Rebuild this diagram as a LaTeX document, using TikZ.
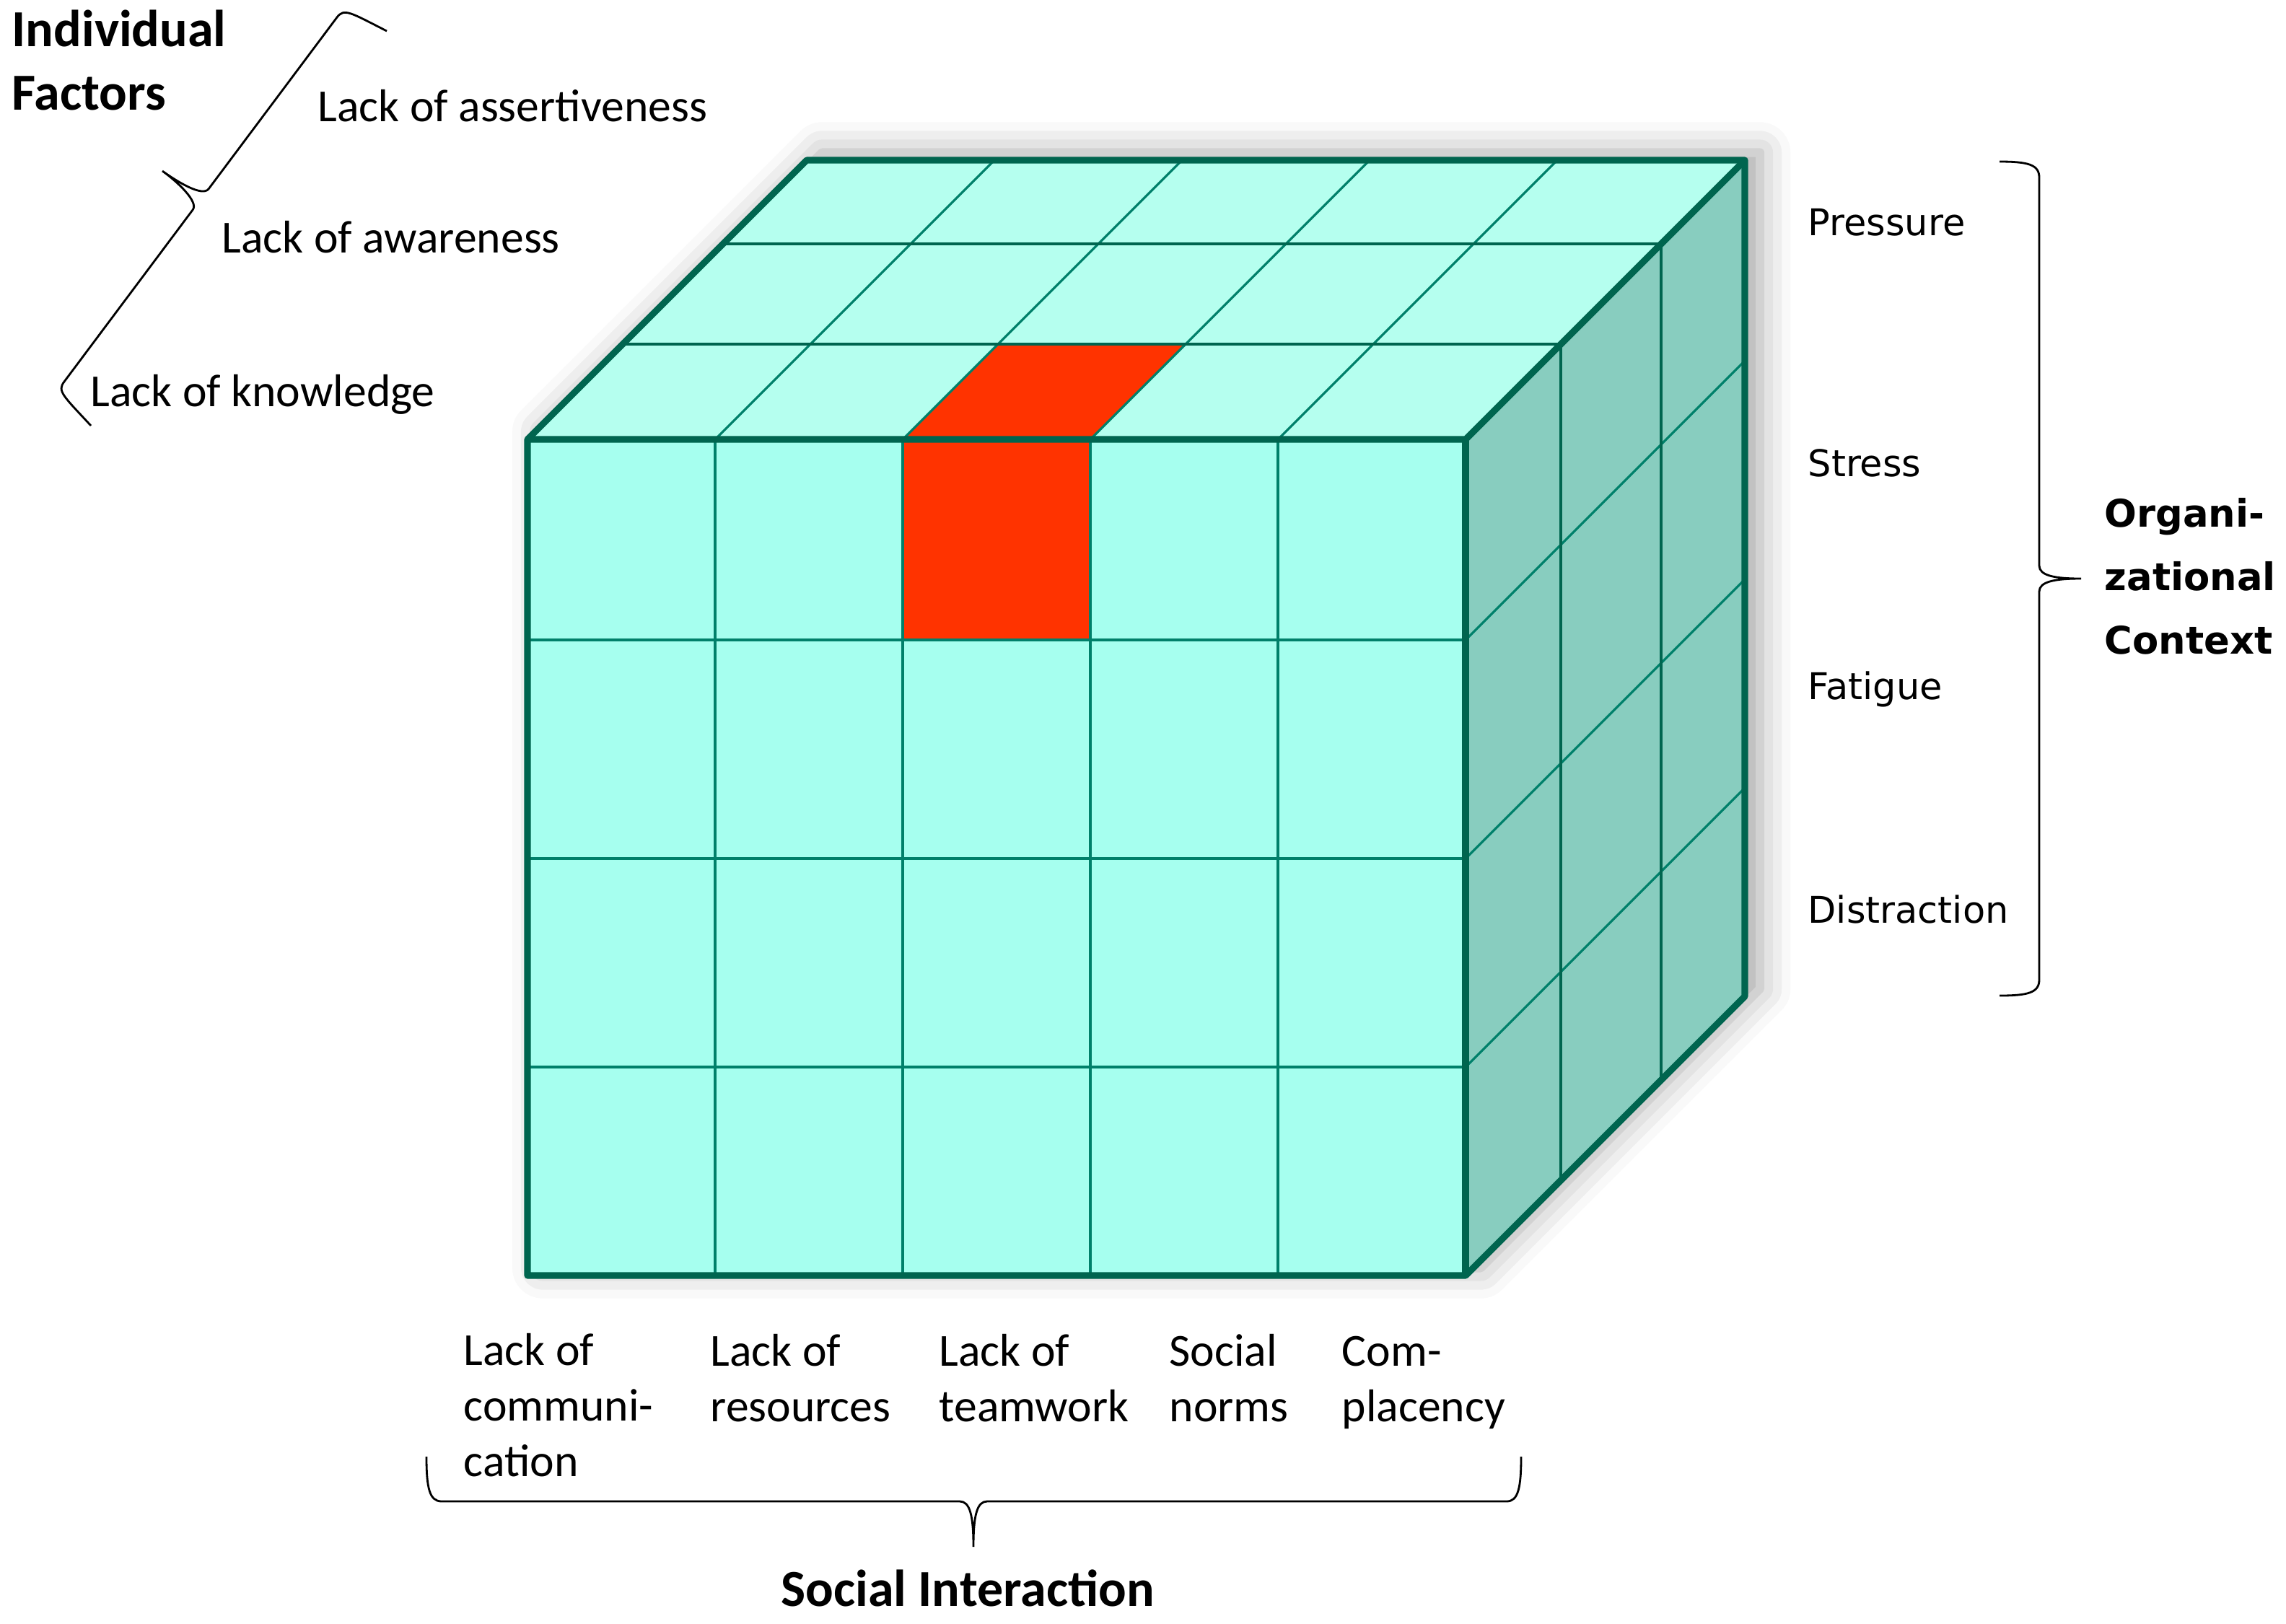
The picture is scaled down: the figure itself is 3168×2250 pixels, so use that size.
\documentclass[tikz,border=0pt]{standalone}
\usepackage{fontspec}
\setmainfont{Carlito}
\newfontfamily\widefont{DejaVu Sans}
\usetikzlibrary{shadows.blur}
\definecolor{cubeedge}{HTML}{00654F}
\definecolor{cubegrid}{HTML}{00806A}
\definecolor{frontcol}{HTML}{A6FFEF}
\definecolor{topcol}{HTML}{B5FFEF}
\definecolor{sidecol}{HTML}{88CDBF}
\definecolor{hotcol}{HTML}{FF3300}

\begin{document}
\begin{tikzpicture}[x=0.01cm, y=-0.01cm,
            cubeline/.style={color=cubeedge, line width=2.6pt, line join=round},
            gridline/.style={color=cubegrid, line width=0.9pt},
            layerline/.style={color=cubeedge, line width=1.3pt},
            bracket/.style={color=black, line width=0.8pt},
            factornode/.style={anchor=base west, inner sep=0pt, align=left, font=\fontsize{18.1}{21.9}\selectfont},
            headnode/.style={anchor=base west, inner sep=0pt, align=left, font=\bfseries\fontsize{20.5}{24.8}\selectfont},
            contextnode/.style={anchor=base west, inner sep=0pt, font=\widefont\fontsize{14.5}{17}\selectfont},
            contexthead/.style={anchor=base west, inner sep=0pt, align=left, font=\widefont\bfseries\fontsize{15}{25}\selectfont}
        ]
            \useasboundingbox (0,0) rectangle (3168,2250);

            % shadow
            \path[fill=white, blur shadow={shadow xshift=6pt, shadow yshift=3pt, shadow blur radius=12pt, shadow opacity=35}]
                (731,609) -- (1118,222) -- (2418,222) -- (2418,1381) -- (2031,1768) -- (731,1768) -- cycle;

            % faces
            \fill[frontcol] (731,609) rectangle (2031,1768);
            \fill[topcol] (731,609) -- (1118,222) -- (2418,222) -- (2031,609) -- cycle;
            \fill[sidecol] (2031,609) -- (2418,222) -- (2418,1381) -- (2031,1768) -- cycle;

            % highlighted cell
            \fill[hotcol] (1251,609) rectangle (1511,887);
            \fill[hotcol] (1251,609) -- (1511,609) -- (1643,477) -- (1383,477) -- cycle;

            % grid columns and rows
            \foreach \x in {991, 1251, 1511, 1771}{
                \draw[gridline] (\x,609) -- (\x,1768);
                \draw[gridline] (\x,609) -- ({\x+387},222);
            }
            \foreach \y in {887, 1190, 1479}{
                \draw[gridline] (731,\y) -- (2031,\y);
                \draw[gridline] (2031,\y) -- (2418,{\y-387});
            }

            % depth layers
            \foreach \d in {132, 271}{
                \draw[layerline] ({731+\d},{609-\d}) -- ({2031+\d},{609-\d});
                \draw[layerline] ({2031+\d},{609-\d}) -- ({2031+\d},{1768-\d});
            }

            % outline
            \draw[cubeline] (731,1768) -- (731,609) -- (1118,222) -- (2418,222) -- (2418,1381) -- (2031,1768) -- cycle;
            \draw[cubeline] (731,609) -- (2031,609) -- (2418,222);
            \draw[cubeline] (2031,609) -- (2031,1768);

            % individual factors
            \node[headnode] (indiv) at (16,152) {Individual\\Factors};
            \node[factornode] (assert) at (440,168) {Lack of assertiveness};
            \node[factornode] (aware) at (307,350) {Lack of awareness};
            \node[factornode] (know) at (125,563) {Lack of knowledge};
            \draw[bracket] (536,43) .. controls (485,17) and (477,11) .. (467,24)
                -- (289,262) .. controls (280,273) and (246,252) .. (225,237)
                .. controls (246,252) and (276,280) .. (267,291)
                -- (89,529) .. controls (79,542) and (87,548) .. (126,590);

            % social interaction
            \node[factornode] (comm) at (642,2046) {Lack of\\communi-\\cation};
            \node[factornode] (resrc) at (984,1970) {Lack of\\resources};
            \node[factornode] (team) at (1301,1970) {Lack of\\teamwork};
            \node[factornode] (norms) at (1620,1970) {Social\\norms};
            \node[factornode] (compl) at (1859,1970) {Com-\\placency};
            \draw[bracket] (591,2019) .. controls (591,2062) and (595,2081) .. (612,2081)
                -- (1330,2081) .. controls (1344,2081) and (1349,2100) .. (1349,2144)
                .. controls (1349,2100) and (1354,2081) .. (1368,2081)
                -- (2088,2081) .. controls (2104,2081) and (2108,2062) .. (2108,2019);
            \node[headnode, anchor=base] (social) at (1341,2226) {Social Interaction};

            % organizational context
            \node[contextnode] (press) at (2505,326) {Pressure};
            \node[contextnode] (stress) at (2505,660) {Stress};
            \node[contextnode] (fatig) at (2505,969) {Fatigue};
            \node[contextnode] (distr) at (2505,1279) {Distraction};
            \draw[bracket] (2771,224) .. controls (2810,224) and (2826,228) .. (2826,246)
                -- (2826,784) .. controls (2826,798) and (2848,802) .. (2884,802)
                .. controls (2848,802) and (2826,806) .. (2826,820)
                -- (2826,1358) .. controls (2826,1376) and (2810,1380) .. (2771,1380);
            \node[contexthead] (orgctx) at (2916,906) {Organi-\\zational\\Context};

        \end{tikzpicture}
\end{document}
